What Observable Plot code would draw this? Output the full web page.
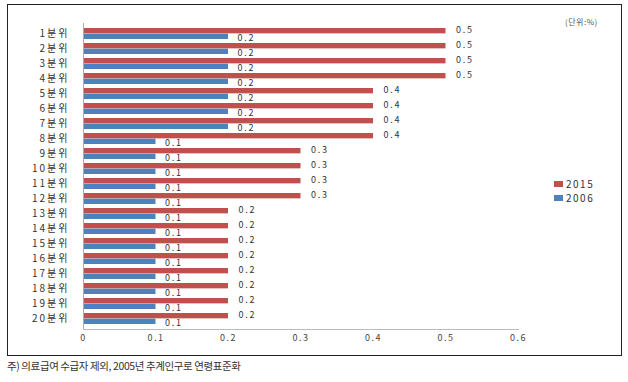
<!DOCTYPE html>
<html><head><meta charset="utf-8">
<script src="https://cdn.jsdelivr.net/npm/d3@7"></script>
<script src="https://cdn.jsdelivr.net/npm/@observablehq/plot@0.6"></script>
<style>
body{margin:0;background:#fff;font-family:"Noto Sans CJK KR","Noto Sans",sans-serif;}
#wrap{position:relative;width:628px;height:382px;}
#frame{position:absolute;left:7px;top:4px;width:613px;height:350px;border:1.5px solid #222;}
#chart{position:absolute;left:0;top:0;}
#chart [aria-label="y-axis tick label"]{letter-spacing:2px;}
#chart [aria-label="x-axis tick label"]{letter-spacing:1.5px;}
#chart [aria-label="text"]{letter-spacing:1.8px;}
.leg{position:absolute;font-size:10px;color:#333;letter-spacing:1.5px;}
.sw{display:inline-block;width:9px;height:6px;margin-right:3px;vertical-align:1px;}
#unit{position:absolute;left:565px;top:16px;font-size:8px;color:#555;letter-spacing:0.5px;}
#cap{position:absolute;left:7px;top:358px;font-size:10.5px;color:#333;letter-spacing:-0.4px;}
</style></head>
<body><div id="wrap"><div id="frame"></div><div id="chart"></div>
<div id="unit">(단위:%)</div>
<div class="leg" style="left:554px;top:176px"><span class="sw" style="background:#C0504D"></span>2015</div>
<div class="leg" style="left:554px;top:190px"><span class="sw" style="background:#4F81BD"></span>2006</div>
<div id="cap">주) 의료급여 수급자 제외, 2005년 추계인구로 연령표준화</div>
</div>
<script>
const categories = ["1분위","2분위","3분위","4분위","5분위","6분위","7분위","8분위","9분위","10분위","11분위","12분위","13분위","14분위","15분위","16분위","17분위","18분위","19분위","20분위"];
const v2015 = [0.5,0.5,0.5,0.5,0.4,0.4,0.4,0.4,0.3,0.3,0.3,0.3,0.2,0.2,0.2,0.2,0.2,0.2,0.2,0.2];
const v2006 = [0.2,0.2,0.2,0.2,0.2,0.2,0.2,0.1,0.1,0.1,0.1,0.1,0.1,0.1,0.1,0.1,0.1,0.1,0.1,0.1];
const xTicks = [0,0.1,0.2,0.3,0.4,0.5,0.6];

const d15 = categories.map((c,i)=>({cat:c, v:v2015[i]}));
const d06 = categories.map((c,i)=>({cat:c, v:v2006[i]}));
const step = 15.28;
const fmt = d => d === 0 ? "0" : d3.format(".1f")(d);

const plot = Plot.plot({
  width: 628, height: 360,
  marginLeft: 83, marginRight: 110, marginTop: 23, marginBottom: 31,
  style: {fontFamily: "'Noto Sans CJK KR','Noto Sans',sans-serif", background: "transparent"},
  x: {domain: [0, 0.6], ticks: xTicks, tickFormat: fmt, tickSize: 0, tickPadding: 6, label: null},
  y: {domain: categories, padding: 0, tickSize: 0, tickPadding: 14, label: null},
  marks: [
    Plot.axisX({ticks: xTicks, tickFormat: fmt, tickSize: 0, tickPadding: 5, fontSize: 9, fill: "#444"}),
    Plot.axisY({tickSize: 0, tickPadding: 14, fontSize: 10, fill: "#333"}),
    Plot.barX(d15, {x: "v", y: "cat", fill: "#C0504D", insetTop: 2, insetBottom: step/2}),
    Plot.barX(d06, {x: "v", y: "cat", fill: "#4F81BD", insetTop: step/2, insetBottom: 2}),
    Plot.text(d15, {x: "v", y: "cat", text: d => fmt(d.v), dx: 10, dy: -3.5, textAnchor: "start", fontSize: 9, fill: "#333"}),
    Plot.text(d06, {x: "v", y: "cat", text: d => fmt(d.v), dx: 9, dy: 4, textAnchor: "start", fontSize: 9, fill: "#333"}),
    Plot.ruleX([0], {stroke: "#aaa"}),
    Plot.frame({anchor: "bottom", stroke: "#bbb"})
  ]
});
document.getElementById("chart").appendChild(plot);
</script></body></html>
